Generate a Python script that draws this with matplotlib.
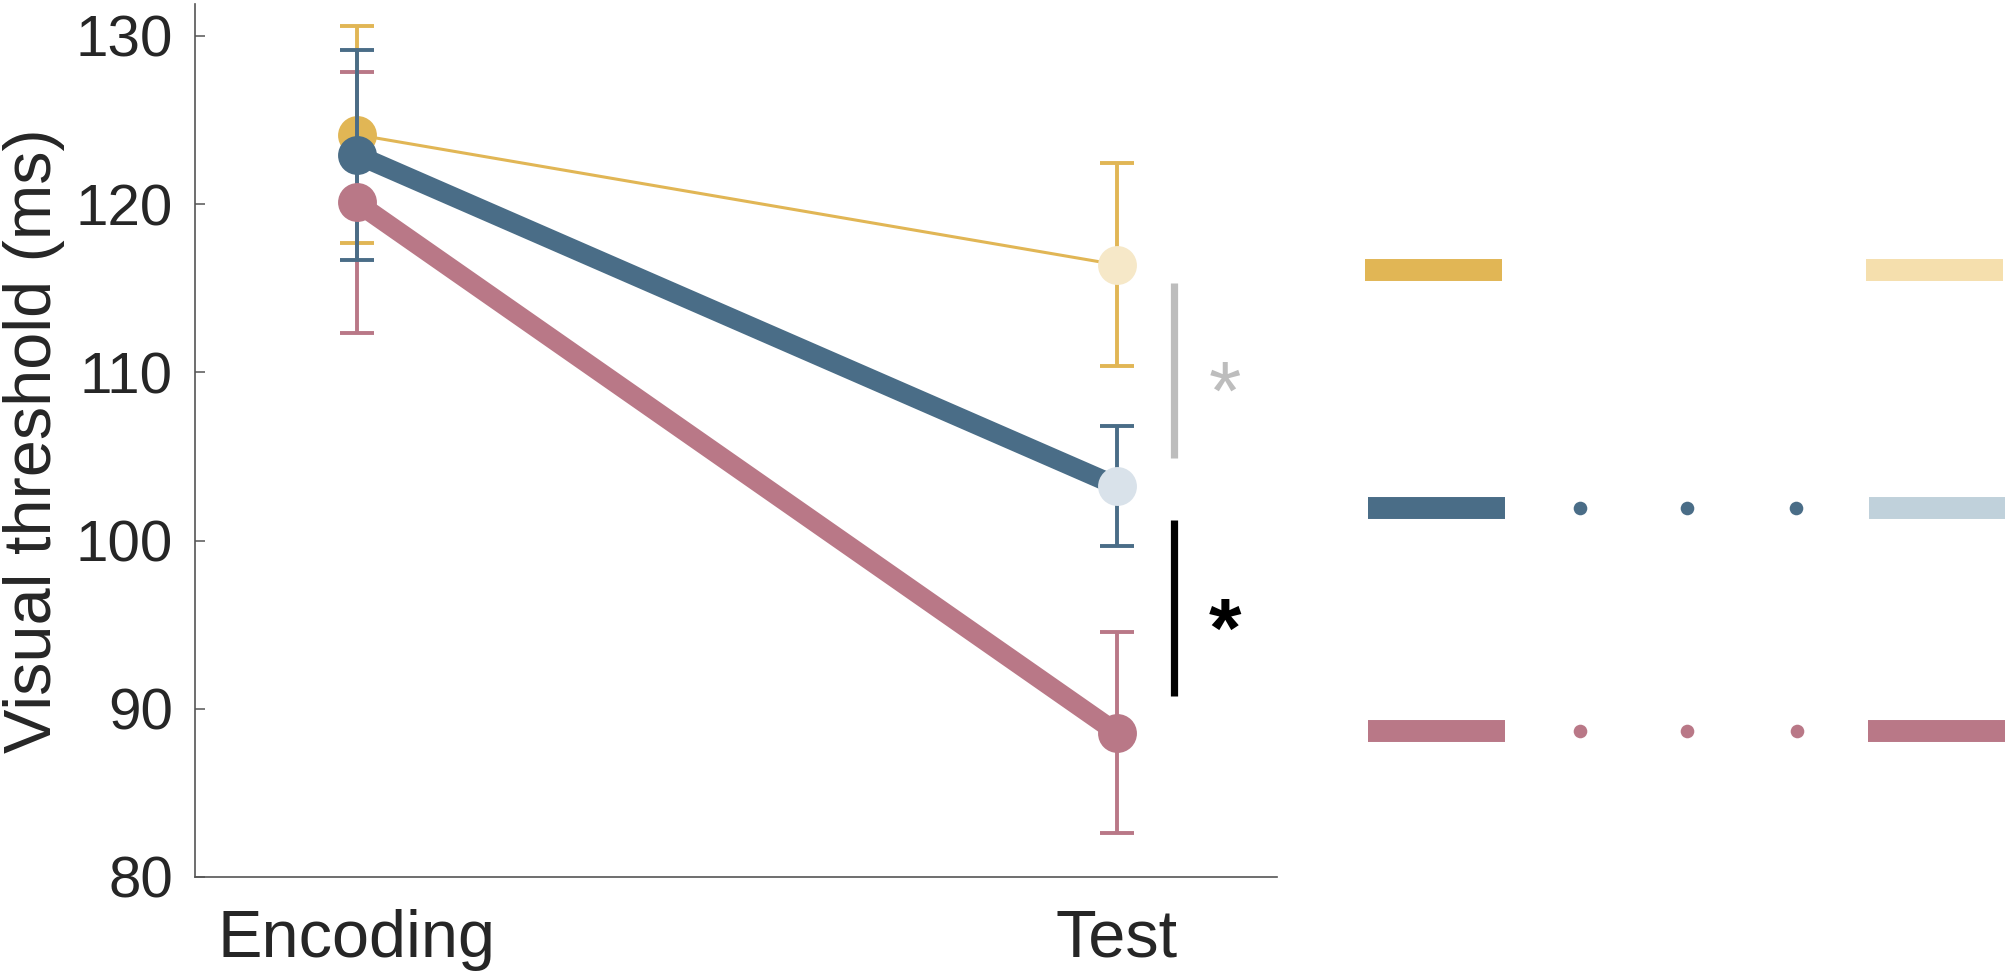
import matplotlib
matplotlib.use('Agg')
import matplotlib.pyplot as plt
from matplotlib.lines import Line2D

# ---------------- data ----------------
conditions = ['Encoding', 'Test']
x_pos = [1, 2]
yellow_mean = [124.13, 116.40]
yellow_err = [6.45, 6.05]
blue_mean = [122.94, 103.25]
blue_err = [6.25, 3.55]
pink_mean = [120.10, 88.58]
pink_err = [7.74, 5.96]
yticks = [80, 90, 100, 110, 120, 130]
ylabel = 'Visual threshold (ms)'
sig_gray_span = [104.9, 115.3]
sig_black_span = [90.75, 101.2]
sig_gray_label = '*'
sig_black_label = '*'

# ---------------- style ----------------
plt.rcParams['font.family'] = ['Liberation Sans', 'DejaVu Sans']
TXT = '#262626'
YEL, YEL_MARK, YEL_LEG = '#E1B655', '#F6E8C8', '#F5DFAD'
BLU, BLU_MARK, BLU_LEG = '#4A6D87', '#D9E2EA', '#C0D1DB'
PNK = '#B97887'

W, H = 2008, 977
fig = plt.figure(figsize=(W / 100, H / 100), dpi=100)
ax = fig.add_axes([195 / W, 1 - 877 / H, (1277 - 195) / W, (877 - 4) / H])


def draw_series(mean, err, c, c_test, lw, z_eb, z_line, z_mark):
    ax.errorbar(x_pos, mean, yerr=err, fmt='none', ecolor=c, elinewidth=2.8,
                capsize=12, capthick=2.8, zorder=z_eb)
    ax.plot(x_pos, mean, color=c, lw=lw, zorder=z_line, solid_capstyle='butt')
    ax.plot(x_pos[:1], mean[:1], 'o', ms=28, mfc=c, mec='none', zorder=z_mark)
    ax.plot(x_pos[1:], mean[1:], 'o', ms=28, mfc=c_test, mec='none', zorder=z_mark)


draw_series(yellow_mean, yellow_err, YEL, YEL_MARK, 2.2, 2.0, 2.1, 2.2)
draw_series(pink_mean, pink_err, PNK, PNK, 14.0, 2.3, 2.7, 2.8)
draw_series(blue_mean, blue_err, BLU, BLU_MARK, 14.0, 2.4, 2.5, 2.6)

# significance bars
sig_x = 2.0754
ast_x = 2.142
ax.plot([sig_x, sig_x], sig_gray_span, color='#BDBDBD', lw=5.2,
        solid_capstyle='butt', clip_on=False, zorder=2)
ax.plot([sig_x, sig_x], sig_black_span, color='black', lw=5.2,
        solid_capstyle='butt', clip_on=False, zorder=2)
ax.text(ast_x, sum(sig_gray_span) / 2 - 1.6, sig_gray_label, color='#BDBDBD',
        fontsize=60, ha='center', va='center')
ax.text(ast_x, sum(sig_black_span) / 2 - 1.6, sig_black_label, color='black',
        fontsize=60, fontweight='bold', ha='center', va='center')

ax.set_xlim(0.7872, 2.2109)
ax.set_ylim(80, 131.9)
ax.set_yticks(yticks)
ax.set_xticks(x_pos, conditions)
for s in ['top', 'right']:
    ax.spines[s].set_visible(False)
for s in ['left', 'bottom']:
    ax.spines[s].set_color('#555555')
    ax.spines[s].set_linewidth(1.2)
ax.tick_params(axis='y', direction='in', length=7.2, width=1.1, color='#555555',
               labelsize=42, pad=16, labelcolor=TXT)
ax.tick_params(axis='x', length=0, labelsize=48, pad=23, labelcolor=TXT)
ax.set_ylabel(ylabel, fontsize=48, color=TXT)
ax.yaxis.set_label_coords(-0.1488, 0.5)
ax.yaxis.label.set_va('center')

# ---------------- legend handles (figure pixel layout) ----------------
def fx(px):
    return px / W


def fy(py):
    return 1 - py / H


def bar(x0, x1, y, c):
    fig.add_artist(Line2D([fx(x0), fx(x1)], [fy(y), fy(y)], color=c, lw=15.8,
                          solid_capstyle='butt', transform=fig.transFigure))


def dots(xs, y, c):
    fig.add_artist(Line2D([fx(x) for x in xs], [fy(y)] * len(xs), ls='none',
                          marker='o', ms=9.8, mfc=c, mec='none',
                          transform=fig.transFigure))


bar(1365, 1502, 270, YEL)
bar(1866, 2003, 270, YEL_LEG)
bar(1368, 1505, 508, BLU)
dots([1580, 1687, 1796], 508, BLU)
bar(1869, 2005, 508, BLU_LEG)
bar(1368, 1505, 731, PNK)
dots([1580, 1687, 1797], 731, PNK)
bar(1868, 2005, 731, PNK)

fig.savefig('out.png', dpi=100)
